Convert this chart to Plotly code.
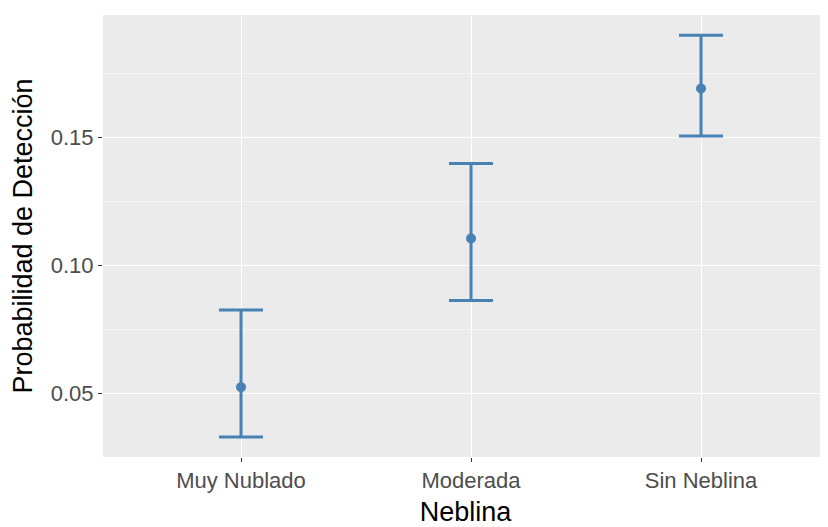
import plotly.graph_objects as go

categories = ["Muy Nublado", "Moderada", "Sin Neblina"]
prob = [0.0523, 0.1104, 0.1690]
upper = [0.0824, 0.1397, 0.1898]
lower = [0.0328, 0.0861, 0.1504]

err_plus = [u - p for u, p in zip(upper, prob)]
err_minus = [p - l for p, l in zip(prob, lower)]

color = "#4682B4"

fig = go.Figure()
fig.add_trace(go.Scatter(
    x=categories, y=prob, mode="markers",
    marker=dict(color=color, size=10),
    error_y=dict(type="data", array=err_plus, arrayminus=err_minus,
                 color=color, thickness=3, width=22, symmetric=False),
    showlegend=False,
))

# page body has an 8px default margin, so the figure is sized to compensate
fig.update_layout(
    width=820, height=519,
    margin=dict(l=95, r=0, t=7, b=70),
    paper_bgcolor="white",
    plot_bgcolor="#EBEBEB",
    font=dict(family="Liberation Sans, Arial, sans-serif"),
)
fig.update_xaxes(
    type="category", range=[-0.6, 2.552], automargin=False,
    showgrid=True, gridcolor="white", gridwidth=1.2,
    ticks="outside", ticklen=4, tickcolor="#333333",
    tickfont=dict(size=22, color="#4D4D4D"),
    title=dict(text="Neblina", font=dict(size=27, color="black"), standoff=12),
    zeroline=False, showline=False,
)
fig.update_yaxes(
    range=[0.025, 0.1977], automargin=False,
    tickvals=[0.05, 0.10, 0.15], ticktext=["0.05", "0.10", "0.15"],
    showgrid=True, gridcolor="white", gridwidth=1.2,
    minor=dict(tickvals=[0.075, 0.125, 0.175], showgrid=True,
               gridcolor="#F5F5F5", gridwidth=0.8, ticks=""),
    ticks="outside", ticklen=4, tickcolor="#333333",
    tickfont=dict(size=22, color="#4D4D4D"),
    title=dict(text="Probabilidad de Detección", font=dict(size=27, color="black"), standoff=12),
    zeroline=False, showline=False,
)

fig.write_html("out.html")
